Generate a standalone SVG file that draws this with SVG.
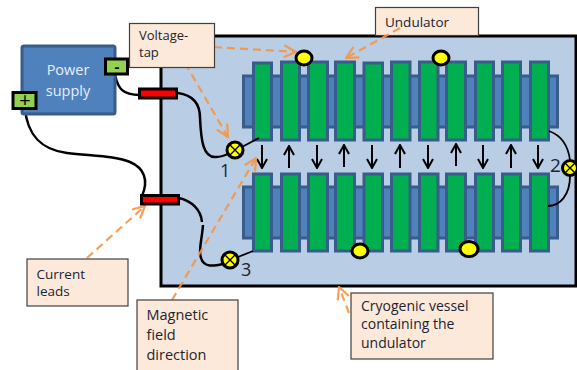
<svg xmlns="http://www.w3.org/2000/svg" width="577" height="370" viewBox="0 0 577 370">
<defs>
<marker id="oa" viewBox="0 0 14 14" refX="13" refY="7" markerWidth="14" markerHeight="14" markerUnits="userSpaceOnUse" orient="auto"><path d="M1 1L13 7L1 13" fill="none" stroke="#f79646" stroke-width="2.2"/></marker>
<marker id="ba" viewBox="0 0 12 12" refX="11" refY="6" markerWidth="12" markerHeight="12" markerUnits="userSpaceOnUse" orient="auto"><path d="M2 1L11 6L2 11" fill="none" stroke="#000" stroke-width="2"/></marker>
</defs>
<style>
text{font-family:"Open Sans","Liberation Sans",sans-serif;font-size:13.500px;fill:#1a2433}
.box{fill:#fde9d9;stroke:#404040;stroke-width:1.200}
.bar{fill:#4f81bd;stroke:#385d8a;stroke-width:3}
.pole{fill:#00b050;stroke:#385d8a;stroke-width:3}
.wire{fill:none;stroke:#000;stroke-width:2.500}
.thin{fill:none;stroke:#000;stroke-width:1.800}
.dash{fill:none;stroke:#f79646;stroke-width:2.200;stroke-dasharray:8 5;opacity:.9}
.arr{fill:none;stroke:#000;stroke-width:2;marker-end:url(#ba)}
.tap{fill:#ff0;stroke:#000;stroke-width:3}
.x{stroke:#000;stroke-width:1.400}
.term{fill:#92d050;stroke:#000;stroke-width:3}
.lead{fill:#f00;stroke:#000;stroke-width:3}
.num{font-size:18px}
</style>
<g id="vessel"><rect x="161" y="36" width="415" height="250" fill="#b9cde5" stroke="#000" stroke-width="3"/></g>
<g id="undulator-top">
<rect class="bar" x="243.500" y="76" width="314" height="51"/>
<rect class="pole" x="253.500" y="63" width="18" height="77"/>
<rect class="pole" x="281.500" y="62" width="18" height="78"/>
<rect class="pole" x="308.500" y="62" width="19" height="78"/>
<rect class="pole" x="335.500" y="62" width="19" height="78"/>
<rect class="pole" x="364" y="63" width="18.500" height="77"/>
<rect class="pole" x="391.500" y="62" width="18.500" height="78"/>
<rect class="pole" x="419.500" y="62" width="18.500" height="78"/>
<rect class="pole" x="446.500" y="62" width="19" height="78"/>
<rect class="pole" x="475.500" y="62" width="18" height="78"/>
<rect class="pole" x="502.500" y="62" width="18" height="78"/>
<rect class="pole" x="530.500" y="62" width="18" height="78"/>
</g>
<g id="undulator-bottom">
<rect class="bar" x="243.500" y="187" width="314" height="51"/>
<rect class="pole" x="253.500" y="174" width="18" height="77"/>
<rect class="pole" x="281.500" y="174" width="18" height="77"/>
<rect class="pole" x="308.500" y="174" width="19" height="77"/>
<rect class="pole" x="335.500" y="174" width="19" height="77"/>
<rect class="pole" x="364" y="174" width="18.500" height="77"/>
<rect class="pole" x="391.500" y="174" width="18.500" height="77"/>
<rect class="pole" x="419.500" y="174" width="18.500" height="77"/>
<rect class="pole" x="446.500" y="174" width="19" height="77"/>
<rect class="pole" x="475.500" y="174" width="18" height="77"/>
<rect class="pole" x="502.500" y="174" width="18" height="77"/>
<rect class="pole" x="530.500" y="174" width="18" height="77"/>
</g>
<g id="label-undulator"><rect class="box" x="375.500" y="7.500" width="103" height="28"/><text x="385" y="27">Undulator</text></g>
<g id="connectors">
<path class="wire" d="M115 75C118 88 122 95 140 95"/>
<path class="wire" d="M178 93C192 95 200 103 200 118C201 140 203 158 216 157C222 157 226 155 230 153"/>
<path class="wire" d="M25 108C27 135 42 150 67 153C95 156 117 156 130 162C144 168 149 180 142 196"/>
<path class="wire" d="M179 198C192 201 201 210 202 222"/>
<path class="wire" d="M203 225C202 240 198 250 201 258C204 268 214 266 223 264"/>
<path class="thin" d="M240 148L259 138"/>
<path class="thin" d="M238 257L253 251"/>
<path class="thin" d="M549 131C560 135 568 145 570 160"/>
<path class="thin" d="M570 176C570 195 560 206 548 206"/>
<path class="arr" d="M262 145V168"/>
<path class="arr" d="M289 168V146"/>
<path class="arr" d="M317 145V168"/>
<path class="arr" d="M344 167V145"/>
<path class="arr" d="M372 145V168"/>
<path class="arr" d="M400 168V145"/>
<path class="arr" d="M428 145V168"/>
<path class="arr" d="M456 166V144"/>
<path class="arr" d="M483 145V168"/>
<path class="arr" d="M511 168V145"/>
<path class="arr" d="M538 145V168"/>
<path class="dash" marker-end="url(#oa)" d="M214 47L296 52"/>
<path class="dash" marker-end="url(#oa)" d="M185 63L228 137"/>
<path class="dash" marker-end="url(#oa)" d="M400 28L346 58"/>
<path class="dash" marker-end="url(#oa)" d="M87 258L145 206"/>
<path class="dash" marker-end="url(#oa)" d="M172 300L256 158"/>
<path class="dash" marker-end="url(#oa)" d="M349 313L339 287"/>
</g>
<g id="power-supply">
<rect x="22" y="46" width="93" height="68" rx="2" fill="#4f81bd" stroke="#385d8a" stroke-width="3"/>
<text x="68" y="75" text-anchor="middle" style="fill:#e8eef7;font-size:14.500px">Power</text>
<text x="68" y="96" text-anchor="middle" style="fill:#e8eef7;font-size:14.500px">supply</text>
<rect class="term" x="105.500" y="59" width="22" height="15"/>
<text x="117" y="72" text-anchor="middle" style="fill:#000;font-size:15px;font-weight:bold">-</text>
<rect class="term" x="13" y="92.500" width="23" height="16"/>
<text x="25" y="107" text-anchor="middle" style="fill:#000;font-size:20px">+</text>
</g>
<g id="lead-top"><rect class="lead" x="139.500" y="89" width="37" height="9"/></g>
<g id="lead-bottom"><rect class="lead" x="141.500" y="195.500" width="37" height="8.500"/></g>
<g id="tap-1"><circle class="tap" cx="235" cy="150" r="8"/><path class="x" d="M230 145L240 155M240 145L230 155"/><text class="num" x="220" y="177">1</text></g>
<g id="tap-2"><circle class="tap" cx="570" cy="168" r="7.500"/><path class="x" d="M565 163L575 173M575 163L565 173"/><text class="num" x="550" y="172" style="font-size:19px">2</text></g>
<g id="tap-3"><circle class="tap" cx="230" cy="260" r="8"/><path class="x" d="M225 255L235 265M235 255L225 265"/><text class="num" x="241" y="276">3</text></g>
<g id="yellow-dots">
<ellipse class="tap" cx="304" cy="58" rx="8" ry="7"/>
<ellipse class="tap" cx="441" cy="58" rx="8" ry="7"/>
<ellipse class="tap" cx="360" cy="251" rx="8" ry="7"/>
<ellipse class="tap" cx="469" cy="249" rx="9" ry="7.500"/>
</g>
<g id="label-voltage"><rect class="box" x="129.500" y="23.500" width="85" height="44"/><text x="139" y="40" style="font-size:13px">Voltage-</text><text x="139" y="57" style="font-size:13px">tap</text></g>
<g id="label-current"><rect class="box" x="27" y="259" width="101" height="47"/><text x="36.500" y="279">Current</text><text x="36.500" y="296">leads</text></g>
<g id="label-magnetic"><rect class="box" x="137" y="300" width="101" height="72"/><text x="146.500" y="320" style="font-size:14.500px">Magnetic</text><text x="146.500" y="340" style="font-size:14.500px">field</text><text x="146.500" y="360" style="font-size:14.500px">direction</text></g>
<g id="label-cryo"><rect class="box" x="351" y="293" width="142" height="66"/><text x="361" y="311" style="font-size:14px">Cryogenic vessel</text><text x="361" y="329" style="font-size:14px">containing the</text><text x="361" y="348" style="font-size:14px">undulator</text></g>
</svg>
